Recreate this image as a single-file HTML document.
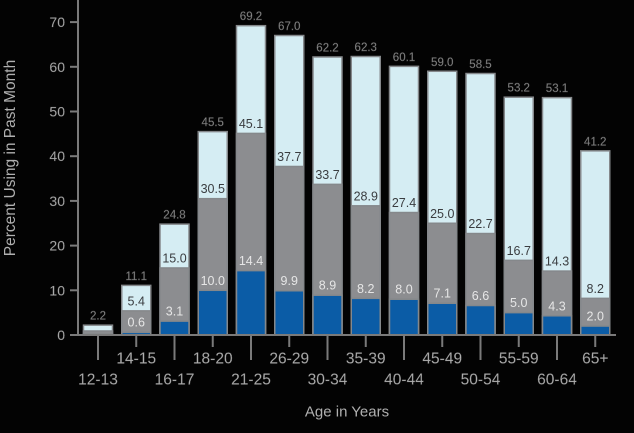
<!DOCTYPE html>
<html><head><meta charset="utf-8"><style>
html,body{margin:0;padding:0;background:#000;}
svg{display:block;}
</style></head><body>
<svg width="634" height="433" viewBox="0 0 634 433" xmlns="http://www.w3.org/2000/svg" font-family="Liberation Sans, Arial, sans-serif">
<rect width="634" height="433" fill="#030303"/>
<g stroke="#7a7a7a" stroke-width="2">
<line x1="78" y1="0" x2="78" y2="336"/>
<line x1="70" y1="335" x2="616" y2="335"/>
<line x1="70" y1="290.3" x2="78" y2="290.3"/>
<line x1="70" y1="245.6" x2="78" y2="245.6"/>
<line x1="70" y1="200.9" x2="78" y2="200.9"/>
<line x1="70" y1="156.2" x2="78" y2="156.2"/>
<line x1="70" y1="111.5" x2="78" y2="111.5"/>
<line x1="70" y1="66.8" x2="78" y2="66.8"/>
<line x1="70" y1="22.1" x2="78" y2="22.1"/>
</g>
<g fill="#b0b0b0" font-size="14" text-anchor="end" stroke="#555" stroke-width="0.3">
<text x="65" y="340">0</text>
<text x="65" y="295.3">10</text>
<text x="65" y="250.6">20</text>
<text x="65" y="205.9">30</text>
<text x="65" y="161.2">40</text>
<text x="65" y="116.5">50</text>
<text x="65" y="71.8">60</text>
<text x="65" y="27.1">70</text>
</g>
<text x="15" y="158" transform="rotate(-90 15 158)" fill="#b0b0b0" font-size="15.5" text-anchor="middle">Percent Using in Past Month</text>

<g stroke="#85888b" stroke-width="1.5">
<rect x="83.5" y="325.17" width="29" height="9.83" fill="#d5edf3"/>
<rect x="83.5" y="330.98" width="29" height="4.02" fill="#8c8d90"/>
<rect x="83.5" y="334.1" width="29" height="0.9" fill="#0b5ca6"/>
<rect x="121.75" y="285.38" width="29" height="49.62" fill="#d5edf3"/>
<rect x="121.75" y="310.86" width="29" height="24.14" fill="#8c8d90"/>
<rect x="121.75" y="332.32" width="29" height="2.68" fill="#0b5ca6"/>
<rect x="160" y="224.14" width="29" height="110.86" fill="#d5edf3"/>
<rect x="160" y="267.95" width="29" height="67.05" fill="#8c8d90"/>
<rect x="160" y="321.14" width="29" height="13.86" fill="#0b5ca6"/>
<rect x="198.25" y="131.61" width="29" height="203.39" fill="#d5edf3"/>
<rect x="198.25" y="198.67" width="29" height="136.33" fill="#8c8d90"/>
<rect x="198.25" y="290.3" width="29" height="44.7" fill="#0b5ca6"/>
<rect x="236.5" y="25.68" width="29" height="309.32" fill="#d5edf3"/>
<rect x="236.5" y="133.4" width="29" height="201.6" fill="#8c8d90"/>
<rect x="236.5" y="270.63" width="29" height="64.37" fill="#0b5ca6"/>
<rect x="274.75" y="35.51" width="29" height="299.49" fill="#d5edf3"/>
<rect x="274.75" y="166.48" width="29" height="168.52" fill="#8c8d90"/>
<rect x="274.75" y="290.75" width="29" height="44.25" fill="#0b5ca6"/>
<rect x="313" y="56.97" width="29" height="278.03" fill="#d5edf3"/>
<rect x="313" y="184.36" width="29" height="150.64" fill="#8c8d90"/>
<rect x="313" y="295.22" width="29" height="39.78" fill="#0b5ca6"/>
<rect x="351.25" y="56.52" width="29" height="278.48" fill="#d5edf3"/>
<rect x="351.25" y="205.82" width="29" height="129.18" fill="#8c8d90"/>
<rect x="351.25" y="298.35" width="29" height="36.65" fill="#0b5ca6"/>
<rect x="389.5" y="66.35" width="29" height="268.65" fill="#d5edf3"/>
<rect x="389.5" y="212.52" width="29" height="122.48" fill="#8c8d90"/>
<rect x="389.5" y="299.24" width="29" height="35.76" fill="#0b5ca6"/>
<rect x="427.75" y="71.27" width="29" height="263.73" fill="#d5edf3"/>
<rect x="427.75" y="223.25" width="29" height="111.75" fill="#8c8d90"/>
<rect x="427.75" y="303.26" width="29" height="31.74" fill="#0b5ca6"/>
<rect x="466" y="73.51" width="29" height="261.49" fill="#d5edf3"/>
<rect x="466" y="233.53" width="29" height="101.47" fill="#8c8d90"/>
<rect x="466" y="305.5" width="29" height="29.5" fill="#0b5ca6"/>
<rect x="504.25" y="97.2" width="29" height="237.8" fill="#d5edf3"/>
<rect x="504.25" y="260.35" width="29" height="74.65" fill="#8c8d90"/>
<rect x="504.25" y="312.65" width="29" height="22.35" fill="#0b5ca6"/>
<rect x="542.5" y="97.64" width="29" height="237.36" fill="#d5edf3"/>
<rect x="542.5" y="271.08" width="29" height="63.92" fill="#8c8d90"/>
<rect x="542.5" y="315.78" width="29" height="19.22" fill="#0b5ca6"/>
<rect x="580.75" y="150.84" width="29" height="184.16" fill="#d5edf3"/>
<rect x="580.75" y="298.35" width="29" height="36.65" fill="#8c8d90"/>
<rect x="580.75" y="326.06" width="29" height="8.94" fill="#0b5ca6"/>
</g>
<line x1="70" y1="335" x2="616" y2="335" stroke="#7a7a7a" stroke-width="2"/>

<g fill="#9a9a9a" font-size="11.5" text-anchor="middle" stroke="#444" stroke-width="0.4">
<text x="98" y="319.7">2.2</text>
<text x="136.25" y="279.9">11.1</text>
<text x="174.5" y="218.6">24.8</text>
<text x="212.75" y="126.1">45.5</text>
<text x="251" y="20.2">69.2</text>
<text x="289.25" y="30">67.0</text>
<text x="327.5" y="51.5">62.2</text>
<text x="365.75" y="51">62.3</text>
<text x="404" y="60.9">60.1</text>
<text x="442.25" y="65.8">59.0</text>
<text x="480.5" y="68">58.5</text>
<text x="518.75" y="91.7">53.2</text>
<text x="557" y="92.1">53.1</text>
<text x="595.25" y="145.3">41.2</text>
</g>
<g fill="#3a3d40" font-size="12.5" text-anchor="middle">
<text x="136.25" y="305.4">5.4</text>
<text x="174.5" y="262.5">15.0</text>
<text x="212.75" y="193.2">30.5</text>
<text x="251" y="127.9">45.1</text>
<text x="289.25" y="161">37.7</text>
<text x="327.5" y="178.9">33.7</text>
<text x="365.75" y="200.3">28.9</text>
<text x="404" y="207">27.4</text>
<text x="442.25" y="217.8">25.0</text>
<text x="480.5" y="228">22.7</text>
<text x="518.75" y="254.9">16.7</text>
<text x="557" y="265.6">14.3</text>
<text x="595.25" y="292.9">8.2</text>
</g>
<g fill="#e6e6e6" font-size="12.5" text-anchor="middle">
<text x="136.25" y="326.5">0.6</text>
<text x="174.5" y="315.6">3.1</text>
<text x="212.75" y="284.8">10.0</text>
<text x="251" y="265.1">14.4</text>
<text x="289.25" y="285.2">9.9</text>
<text x="327.5" y="289.7">8.9</text>
<text x="365.75" y="292.8">8.2</text>
<text x="404" y="293.7">8.0</text>
<text x="442.25" y="297.7">7.1</text>
<text x="480.5" y="300">6.6</text>
<text x="518.75" y="307.1">5.0</text>
<text x="557" y="310.3">4.3</text>
<text x="595.25" y="320.5">2.0</text>
</g>

<g stroke="#7a7a7a" stroke-width="2">
<line x1="98" y1="335" x2="98" y2="360"/>
<line x1="136.25" y1="335" x2="136.25" y2="347"/>
<line x1="174.5" y1="335" x2="174.5" y2="360"/>
<line x1="212.75" y1="335" x2="212.75" y2="347"/>
<line x1="251" y1="335" x2="251" y2="360"/>
<line x1="289.25" y1="335" x2="289.25" y2="347"/>
<line x1="327.5" y1="335" x2="327.5" y2="360"/>
<line x1="365.75" y1="335" x2="365.75" y2="347"/>
<line x1="404" y1="335" x2="404" y2="360"/>
<line x1="442.25" y1="335" x2="442.25" y2="347"/>
<line x1="480.5" y1="335" x2="480.5" y2="360"/>
<line x1="518.75" y1="335" x2="518.75" y2="347"/>
<line x1="557" y1="335" x2="557" y2="360"/>
<line x1="595.25" y1="335" x2="595.25" y2="347"/>
</g>
<g fill="#b0b0b0" font-size="15.5" text-anchor="middle" stroke="#555" stroke-width="0.3">
<text x="98" y="384.5">12-13</text>
<text x="136.25" y="363.5">14-15</text>
<text x="174.5" y="384.5">16-17</text>
<text x="212.75" y="363.5">18-20</text>
<text x="251" y="384.5">21-25</text>
<text x="289.25" y="363.5">26-29</text>
<text x="327.5" y="384.5">30-34</text>
<text x="365.75" y="363.5">35-39</text>
<text x="404" y="384.5">40-44</text>
<text x="442.25" y="363.5">45-49</text>
<text x="480.5" y="384.5">50-54</text>
<text x="518.75" y="363.5">55-59</text>
<text x="557" y="384.5">60-64</text>
<text x="595.25" y="363.5">65+</text>
</g>
<text x="347" y="416.5" fill="#b0b0b0" font-size="15" text-anchor="middle">Age in Years</text>
</svg>
</body></html>
